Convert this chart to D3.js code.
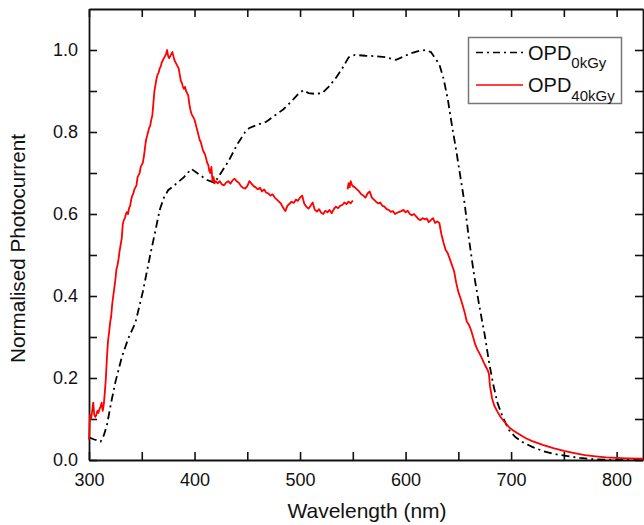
<!DOCTYPE html>
<html><head><meta charset="utf-8">
<script src="https://cdn.jsdelivr.net/npm/d3@7"></script>
<style>
html,body{margin:0;padding:0;background:#fff;}
text{font-family:"Liberation Sans",Arial,sans-serif;fill:#111;}
</style></head>
<body>
<svg id="chart" width="644" height="525"></svg>
<script>
// ---------- data ----------
const xTicks = [300, 400, 500, 600, 700, 800];
const yTicks = [0.0, 0.2, 0.4, 0.6, 0.8, 1.0];
const seriesNames = ["0kGy", "40kGy"];

// OPD 0 kGy  [wavelength nm, normalised photocurrent]
const opd0 = [[300,0.055],[305,0.05],[311,0.045],[314,0.06],[317,0.085],[321,0.14],[325,0.19],[331,0.25],[337,0.295],[344,0.335],[351,0.41],[358,0.5],[363,0.56],[367,0.61],[371,0.64],[375,0.658],[380,0.668],[390,0.69],[397,0.71],[405,0.695],[412,0.683],[419,0.676],[425,0.70],[432,0.728],[441,0.772],[448,0.80],[452,0.81],[460,0.818],[468,0.825],[476,0.84],[484,0.855],[492,0.875],[498,0.892],[503,0.902],[508,0.895],[514,0.893],[521,0.895],[527,0.91],[534,0.932],[540,0.955],[546,0.982],[552,0.988],[562,0.986],[572,0.985],[582,0.982],[591,0.976],[598,0.984],[605,0.992],[613,0.998],[619,1.0],[624,0.995],[628,0.98],[632,0.965],[636,0.93],[640,0.88],[644,0.815],[648,0.755],[652,0.69],[656,0.625],[660,0.54],[665,0.45],[670,0.374],[675,0.305],[679,0.24],[683,0.185],[687,0.14],[692,0.105],[698,0.073],[704,0.056],[712,0.042],[720,0.032],[730,0.022],[740,0.015],[752,0.01],[765,0.005],[777,0.002],[790,0.001],[800,0.0],[825,0.0]];

// OPD 40 kGy, first scan segment (300-550 nm)
const opd40a = [[300,0.05],[301,0.11],[302,0.10],[303,0.12],[304,0.14],[305,0.11],[306,0.105],[307,0.11],[308,0.12],[309,0.115],[310,0.125],[311,0.13],[312,0.14],[313,0.12],[314,0.135],[315,0.165],[316,0.2],[317,0.25],[318,0.29],[319,0.31],[320,0.335],[321,0.35],[322,0.38],[323,0.40],[324,0.42],[325,0.44],[326,0.465],[327,0.475],[328,0.49],[329,0.51],[330,0.525],[331,0.54],[332,0.575],[333,0.585],[334,0.59],[335,0.60],[336,0.605],[337,0.60],[338,0.615],[339,0.62],[340,0.635],[341,0.645],[342,0.65],[343,0.66],[344,0.665],[345,0.67],[346,0.69],[347,0.695],[348,0.70],[349,0.715],[350,0.72],[351,0.725],[352,0.74],[353,0.76],[354,0.78],[355,0.79],[356,0.80],[357,0.81],[358,0.815],[359,0.83],[360,0.84],[361,0.87],[362,0.90],[363,0.915],[364,0.93],[365,0.94],[366,0.945],[367,0.955],[368,0.96],[369,0.97],[370,0.975],[371,0.98],[372,0.985],[373,0.99],[374,1.0],[375,0.985],[376,0.98],[377,0.985],[378,0.99],[379,0.995],[380,0.985],[381,0.975],[382,0.97],[383,0.965],[384,0.96],[385,0.955],[386,0.94],[387,0.925],[388,0.92],[389,0.91],[390,0.905],[391,0.91],[392,0.9],[393,0.895],[394,0.89],[395,0.87],[396,0.855],[397,0.845],[398,0.84],[399,0.835],[400,0.83],[401,0.82],[402,0.81],[403,0.80],[404,0.79],[405,0.78],[406,0.775],[407,0.765],[408,0.755],[409,0.75],[410,0.745],[411,0.735],[412,0.725],[413,0.72],[414,0.705],[415,0.70],[416,0.715],[417,0.68],[418,0.69],[419,0.675],[420,0.68],[422,0.675],[424,0.68],[426,0.672],[428,0.67],[430,0.677],[432,0.68],[434,0.674],[436,0.682],[438,0.686],[440,0.68],[442,0.676],[444,0.668],[446,0.664],[448,0.662],[450,0.668],[452,0.68],[454,0.674],[456,0.668],[458,0.665],[460,0.66],[462,0.664],[464,0.655],[466,0.66],[468,0.652],[470,0.65],[472,0.645],[474,0.648],[476,0.64],[478,0.635],[480,0.63],[482,0.625],[484,0.615],[486,0.607],[488,0.62],[490,0.625],[492,0.63],[494,0.627],[496,0.635],[498,0.632],[500,0.64],[502,0.645],[504,0.625],[506,0.618],[508,0.613],[510,0.62],[512,0.628],[514,0.61],[516,0.606],[518,0.612],[520,0.603],[522,0.6],[524,0.608],[526,0.604],[528,0.61],[530,0.602],[532,0.612],[534,0.618],[536,0.614],[538,0.62],[540,0.622],[542,0.628],[544,0.624],[546,0.63],[548,0.626],[550,0.633]];

// OPD 40 kGy, second scan segment (545-825 nm)
const opd40b = [[545,0.66],[546,0.675],[547,0.665],[548,0.68],[549,0.672],[550,0.668],[552,0.665],[554,0.66],[556,0.655],[558,0.648],[560,0.645],[562,0.64],[564,0.65],[566,0.655],[568,0.64],[570,0.635],[572,0.63],[574,0.626],[576,0.628],[578,0.62],[580,0.618],[582,0.612],[584,0.61],[586,0.605],[588,0.607],[590,0.6],[592,0.603],[594,0.605],[596,0.607],[598,0.61],[600,0.604],[602,0.608],[604,0.6],[606,0.597],[608,0.6],[610,0.594],[612,0.588],[614,0.585],[616,0.59],[618,0.587],[620,0.589],[622,0.58],[624,0.585],[626,0.59],[628,0.578],[630,0.582],[632,0.578],[634,0.55],[636,0.53],[638,0.512],[640,0.504],[642,0.49],[644,0.475],[646,0.46],[648,0.432],[650,0.41],[652,0.395],[654,0.378],[656,0.36],[658,0.338],[660,0.33],[662,0.317],[664,0.3],[666,0.282],[668,0.27],[670,0.26],[672,0.25],[674,0.238],[676,0.228],[678,0.218],[679,0.21],[680,0.18],[682,0.15],[684,0.133],[687,0.118],[690,0.105],[694,0.092],[698,0.08],[702,0.072],[708,0.062],[714,0.053],[720,0.046],[730,0.037],[740,0.029],[750,0.022],[760,0.017],[770,0.012],[780,0.009],[790,0.0065],[800,0.005],[810,0.004],[825,0.003]];

// ---------- layout ----------
const svg = d3.select("#chart");
const L = 89, R = 643, T = 9, B = 460;
const x = d3.scaleLinear().domain([300, 825]).range([L, R]);
const y = d3.scaleLinear().domain([0, 1.1]).range([B, T]);

const xMinor = d3.range(300, 826, 50);
const yMinor = d3.range(0, 11).map(d => +(d / 10).toFixed(1));
const fmtX = d => xTicks.includes(d) ? String(d) : "";
const fmtY = d => yTicks.some(t => Math.abs(t - d) < 1e-9) ? d3.format(".1f")(d) : "";

function styleAxis(g) {
  g.select(".domain").attr("stroke", "#111").attr("stroke-width", 1.8);
  g.selectAll(".tick line").attr("stroke", "#111").attr("stroke-width", 1.6);
  g.selectAll(".tick text").style("font-family", '"Liberation Sans",Arial,sans-serif').style("font-size", "18px").attr("fill", "#111");
}

svg.append("g").attr("transform", `translate(0,${B})`)
  .call(d3.axisBottom(x).tickValues(xMinor).tickFormat(fmtX).tickSize(-8).tickSizeOuter(0).tickPadding(13))
  .call(styleAxis);
svg.append("g").attr("transform", `translate(0,${T})`)
  .call(d3.axisTop(x).tickValues(xMinor).tickFormat("").tickSize(-8).tickSizeOuter(0))
  .call(styleAxis);
svg.append("g").attr("transform", `translate(${L},0)`)
  .call(d3.axisLeft(y).tickValues(yMinor).tickFormat(fmtY).tickSize(-8).tickSizeOuter(0).tickPadding(11))
  .call(styleAxis);
svg.append("g").attr("transform", `translate(${R},0)`)
  .call(d3.axisRight(y).tickValues(yMinor).tickFormat("").tickSize(-8).tickSizeOuter(0))
  .call(styleAxis);

// axis titles
svg.append("text").attr("x", (L + R) / 2 + 1).attr("y", 518).attr("text-anchor", "middle")
  .style("font-size", "21px").text("Wavelength (nm)");
svg.append("text").attr("transform", `translate(25,${(T + B) / 2 + 14}) rotate(-90)`)
  .attr("text-anchor", "middle").style("font-size", "20.7px").text("Normalised Photocurrent");

// lines
const line = d3.line().x(d => x(d[0])).y(d => y(d[1]));
const plot = svg.append("g");
plot.append("path").datum(opd0).attr("d", line).attr("fill", "none")
  .attr("stroke", "#000").attr("stroke-width", 1.8).attr("stroke-dasharray", "8,4,2,4");
[opd40a, opd40b].forEach(seg => {
  plot.append("path").datum(seg).attr("d", line).attr("fill", "none")
    .attr("stroke", "#ff0000").attr("stroke-width", 1.8).attr("stroke-linejoin", "round");
});

// legend
const lg = svg.append("g");
lg.append("rect").attr("x", 468.5).attr("y", 37.5).attr("width", 153).attr("height", 66)
  .attr("fill", "#fff").attr("stroke", "#777").attr("stroke-width", 1.5);
const items = [
  {name: seriesNames[0], color: "#000", dash: "7,4,2,4", ly: 52.5, ty: 59.5},
  {name: seriesNames[1], color: "#ff0000", dash: null, ly: 85, ty: 92}
];
items.forEach(it => {
  lg.append("line").attr("x1", 476).attr("x2", 523).attr("y1", it.ly).attr("y2", it.ly)
    .attr("stroke", it.color).attr("stroke-width", 1.7).attr("stroke-dasharray", it.dash);
  const t = lg.append("text").attr("x", 528).attr("y", it.ty).style("font-size", "20px");
  t.append("tspan").text("OPD");
  t.append("tspan").attr("dy", 8.5).style("font-size", "15px").text(it.name);
});
</script>
</body></html>
